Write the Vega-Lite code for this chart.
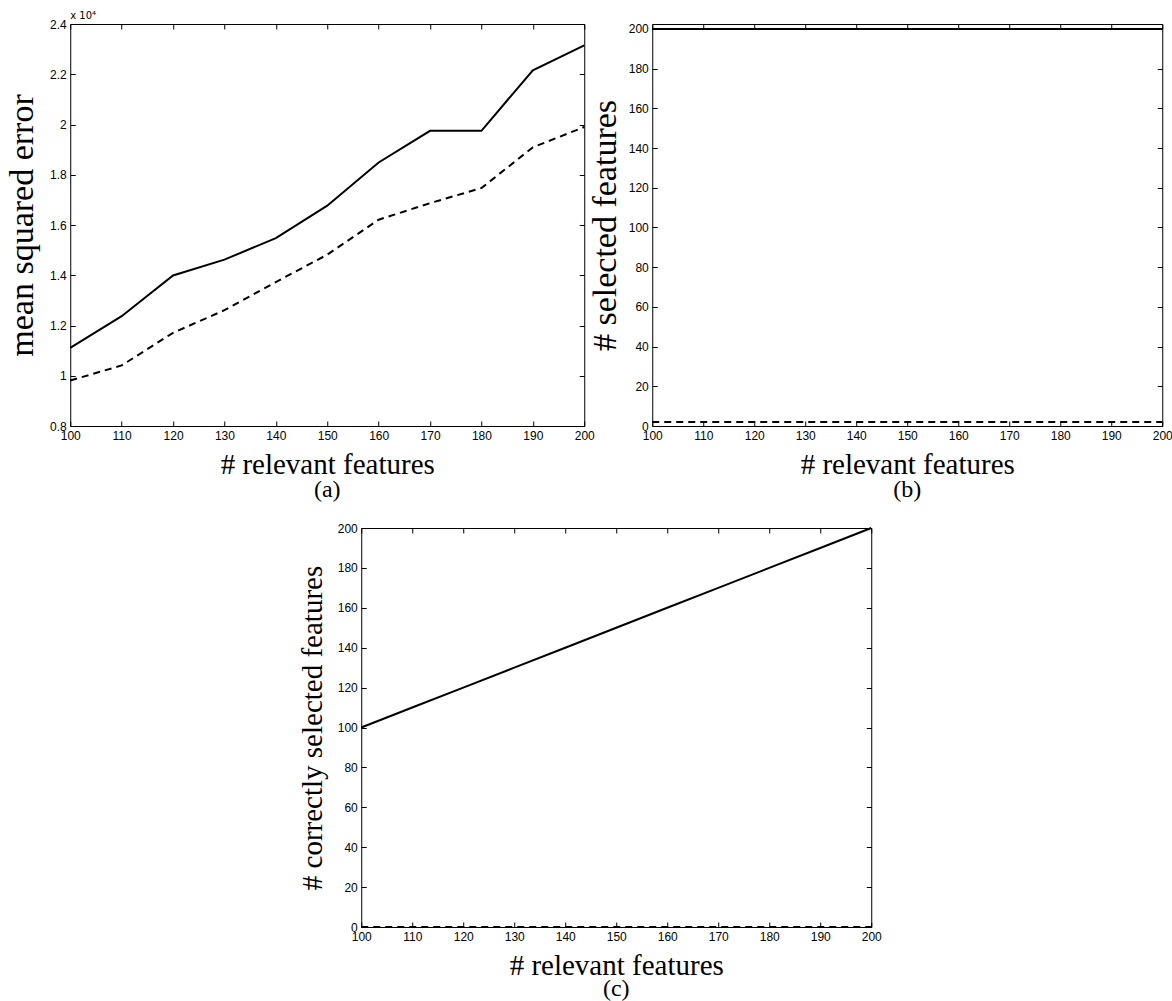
{
  "$schema": "https://vega.github.io/schema/vega-lite/v6.json",
  "padding": {"left": 5, "top": 10, "right": 5, "bottom": 0},
  "background": "white",
  "config": {
    "view": {"stroke": "black", "strokeWidth": 1},
    "axis": {
      "labelFont": "Liberation Sans", "labelFontSize": 12, "labelColor": "black",
      "titleFont": "Liberation Serif", "titleFontWeight": "normal", "titleColor": "black",
      "tickColor": "black", "tickSize": -5, "tickWidth": 1, "domain": false, "grid": false,
      "labelPadding": 9, "labelFlush": false, "labelOverlap": false, "labelBound": false
    },
    "title": {"font": "Liberation Serif", "fontSize": 24, "fontWeight": "normal", "color": "black", "orient": "bottom", "offset": -1}
  },
  "datasets": {
    "a": [
      {"n": 100, "value": 1.111, "series": "solid"},
      {"n": 110, "value": 1.237, "series": "solid"},
      {"n": 120, "value": 1.399, "series": "solid"},
      {"n": 130, "value": 1.462, "series": "solid"},
      {"n": 140, "value": 1.548, "series": "solid"},
      {"n": 150, "value": 1.677, "series": "solid"},
      {"n": 160, "value": 1.849, "series": "solid"},
      {"n": 170, "value": 1.975, "series": "solid"},
      {"n": 180, "value": 1.975, "series": "solid"},
      {"n": 190, "value": 2.216, "series": "solid"},
      {"n": 200, "value": 2.315, "series": "solid"},
      {"n": 100, "value": 0.981, "series": "dashed"},
      {"n": 110, "value": 1.041, "series": "dashed"},
      {"n": 120, "value": 1.171, "series": "dashed"},
      {"n": 130, "value": 1.261, "series": "dashed"},
      {"n": 140, "value": 1.373, "series": "dashed"},
      {"n": 150, "value": 1.482, "series": "dashed"},
      {"n": 160, "value": 1.621, "series": "dashed"},
      {"n": 170, "value": 1.687, "series": "dashed"},
      {"n": 180, "value": 1.747, "series": "dashed"},
      {"n": 190, "value": 1.909, "series": "dashed"},
      {"n": 200, "value": 1.99, "series": "dashed"}
    ],
    "b": [
      {"n": 100, "value": 200, "series": "solid"},
      {"n": 110, "value": 200, "series": "solid"},
      {"n": 120, "value": 200, "series": "solid"},
      {"n": 130, "value": 200, "series": "solid"},
      {"n": 140, "value": 200, "series": "solid"},
      {"n": 150, "value": 200, "series": "solid"},
      {"n": 160, "value": 200, "series": "solid"},
      {"n": 170, "value": 200, "series": "solid"},
      {"n": 180, "value": 200, "series": "solid"},
      {"n": 190, "value": 200, "series": "solid"},
      {"n": 200, "value": 200, "series": "solid"},
      {"n": 100, "value": 2, "series": "dashed"},
      {"n": 110, "value": 2, "series": "dashed"},
      {"n": 120, "value": 2, "series": "dashed"},
      {"n": 130, "value": 2, "series": "dashed"},
      {"n": 140, "value": 2, "series": "dashed"},
      {"n": 150, "value": 2, "series": "dashed"},
      {"n": 160, "value": 2, "series": "dashed"},
      {"n": 170, "value": 2, "series": "dashed"},
      {"n": 180, "value": 2, "series": "dashed"},
      {"n": 190, "value": 2, "series": "dashed"},
      {"n": 200, "value": 2, "series": "dashed"}
    ],
    "c": [
      {"n": 100, "value": 100, "series": "solid"},
      {"n": 110, "value": 110, "series": "solid"},
      {"n": 120, "value": 120, "series": "solid"},
      {"n": 130, "value": 130, "series": "solid"},
      {"n": 140, "value": 140, "series": "solid"},
      {"n": 150, "value": 150, "series": "solid"},
      {"n": 160, "value": 160, "series": "solid"},
      {"n": 170, "value": 170, "series": "solid"},
      {"n": 180, "value": 180, "series": "solid"},
      {"n": 190, "value": 190, "series": "solid"},
      {"n": 200, "value": 200, "series": "solid"},
      {"n": 100, "value": 0, "series": "dashed"},
      {"n": 110, "value": 0, "series": "dashed"},
      {"n": 120, "value": 0, "series": "dashed"},
      {"n": 130, "value": 0, "series": "dashed"},
      {"n": 140, "value": 0, "series": "dashed"},
      {"n": 150, "value": 0, "series": "dashed"},
      {"n": 160, "value": 0, "series": "dashed"},
      {"n": 170, "value": 0, "series": "dashed"},
      {"n": 180, "value": 0, "series": "dashed"},
      {"n": 190, "value": 0, "series": "dashed"},
      {"n": 200, "value": 0, "series": "dashed"}
    ]
  },
  "center": true,
  "spacing": 18,
  "vconcat": [
    {
      "bounds": "flush",
      "spacing": 68,
      "hconcat": [
        {
          "width": 514,
          "height": 402,
          "title": {"text": "(a)"},
          "layer": [
            {
              "data": {"name": "a"},
              "transform": [{"filter": "datum.series == 'solid'"}],
              "mark": {"type": "line", "color": "black", "strokeWidth": 2},
              "encoding": {
                "x": {"field": "n", "type": "quantitative",
                  "scale": {"domain": [100, 200], "nice": false, "zero": false},
                  "axis": {"orient": "bottom", "values": [100, 110, 120, 130, 140, 150, 160, 170, 180, 190, 200], "title": "# relevant features", "titleFontSize": 29, "titlePadding": 9}},
                "y": {"field": "value", "type": "quantitative",
                  "scale": {"domain": [0.8, 2.4], "nice": false, "zero": false},
                  "axis": {"orient": "left", "values": [0.8, 1, 1.2, 1.4, 1.6, 1.8, 2, 2.2, 2.4], "format": "~g", "title": "mean squared error", "titleFontSize": 34, "titlePadding": 10}}
              }
            },
            {
              "data": {"name": "a"},
              "transform": [{"filter": "datum.series == 'dashed'"}],
              "mark": {"type": "line", "color": "black", "strokeWidth": 2, "strokeDash": [7, 5]},
              "encoding": {
                "x": {"field": "n", "type": "quantitative",
                  "axis": {"orient": "top", "values": [100, 110, 120, 130, 140, 150, 160, 170, 180, 190, 200], "labels": false, "title": null}},
                "y": {"field": "value", "type": "quantitative",
                  "axis": {"orient": "right", "values": [0.8, 1, 1.2, 1.4, 1.6, 1.8, 2, 2.2, 2.4], "labels": false, "title": null}}
              }
            },
            {
              "data": {"values": [{}]},
              "mark": {"type": "text", "text": "x 10⁴", "font": "DejaVu Sans", "fontSize": 10, "align": "left", "baseline": "bottom", "dy": -3, "color": "black"},
              "encoding": {
                "x": {"datum": 100, "type": "quantitative", "axis": null},
                "y": {"datum": 2.4, "type": "quantitative", "axis": null}
              }
            }
          ]
        },
        {
          "width": 510,
          "height": 402,
          "title": {"text": "(b)"},
          "layer": [
            {
              "data": {"name": "b"},
              "transform": [{"filter": "datum.series == 'solid'"}],
              "mark": {"type": "line", "color": "black", "strokeWidth": 2},
              "encoding": {
                "x": {"field": "n", "type": "quantitative",
                  "scale": {"domain": [100, 200], "nice": false, "zero": false},
                  "axis": {"orient": "bottom", "values": [100, 110, 120, 130, 140, 150, 160, 170, 180, 190, 200], "title": "# relevant features", "titleFontSize": 29, "titlePadding": 9}},
                "y": {"field": "value", "type": "quantitative",
                  "scale": {"domain": [0, 202.5], "nice": false, "zero": false},
                  "axis": {"orient": "left", "values": [0, 20, 40, 60, 80, 100, 120, 140, 160, 180, 200], "title": "# selected features", "titleFontSize": 34, "titlePadding": 6}}
              }
            },
            {
              "data": {"name": "b"},
              "transform": [{"filter": "datum.series == 'dashed'"}],
              "mark": {"type": "line", "color": "black", "strokeWidth": 2, "strokeDash": [7, 5]},
              "encoding": {
                "x": {"field": "n", "type": "quantitative",
                  "axis": {"orient": "top", "values": [100, 110, 120, 130, 140, 150, 160, 170, 180, 190, 200], "labels": false, "title": null}},
                "y": {"field": "value", "type": "quantitative",
                  "axis": {"orient": "right", "values": [0, 20, 40, 60, 80, 100, 120, 140, 160, 180, 200], "labels": false, "title": null}}
              }
            }
          ]
        }
      ]
    },
    {
      "width": 510,
      "height": 399,
      "title": {"text": "(c)", "offset": -3},
      "layer": [
        {
          "data": {"name": "c"},
          "transform": [{"filter": "datum.series == 'solid'"}],
          "mark": {"type": "line", "color": "black", "strokeWidth": 2},
          "encoding": {
            "x": {"field": "n", "type": "quantitative",
              "scale": {"domain": [100, 200], "nice": false, "zero": false},
              "axis": {"orient": "bottom", "values": [100, 110, 120, 130, 140, 150, 160, 170, 180, 190, 200], "title": "# relevant features", "titleFontSize": 29, "titlePadding": 9}},
            "y": {"field": "value", "type": "quantitative",
              "scale": {"domain": [0, 200], "nice": false, "zero": false},
              "axis": {"orient": "left", "values": [0, 20, 40, 60, 80, 100, 120, 140, 160, 180, 200], "title": "# correctly selected features", "titleFontSize": 29, "titlePadding": 10}}
          }
        },
        {
          "data": {"name": "c"},
          "transform": [{"filter": "datum.series == 'dashed'"}],
          "mark": {"type": "line", "color": "black", "strokeWidth": 2, "strokeDash": [7, 5]},
          "encoding": {
            "x": {"field": "n", "type": "quantitative",
              "axis": {"orient": "top", "values": [100, 110, 120, 130, 140, 150, 160, 170, 180, 190, 200], "labels": false, "title": null}},
            "y": {"field": "value", "type": "quantitative",
              "axis": {"orient": "right", "values": [0, 20, 40, 60, 80, 100, 120, 140, 160, 180, 200], "labels": false, "title": null}}
          }
        }
      ]
    }
  ]
}
